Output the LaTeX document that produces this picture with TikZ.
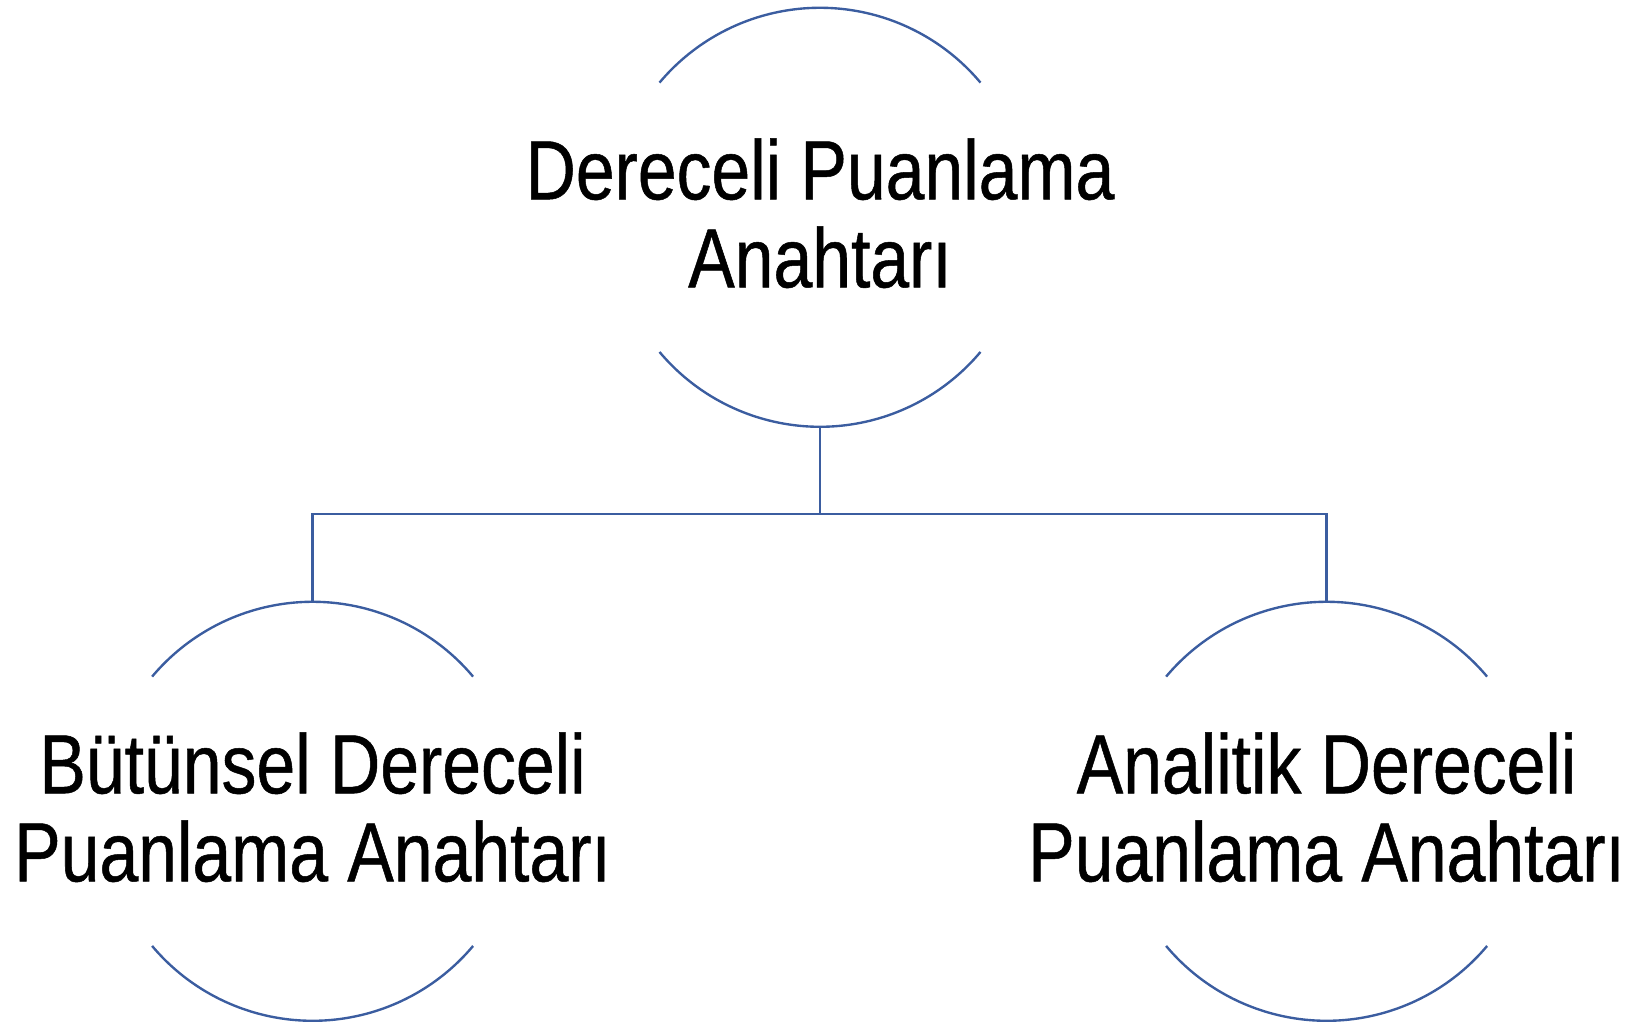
\documentclass[tikz,border=0pt]{standalone}
\usepackage{fontspec}
\setmainfont{Liberation Sans}[FakeStretch=0.83,FakeBold=0.6]
\usepackage{tikz}
\usetikzlibrary{calc}
\definecolor{line}{HTML}{3B5DA0}
\tikzset{
  arcs/.style={draw=line, line width=1.35pt},
  link/.style={draw=line, line width=1.35pt},
  lab/.style={font=\fontsize{47.8}{50.1}\selectfont, align=center, inner sep=0pt, yshift=0.08cm},
}

\begin{document}
\begin{tikzpicture}[x=0.02cm,y=0.02cm]
  \def\r{209.5}
  \useasboundingbox (0,0) rectangle (1634,1023);
  \coordinate (T) at (820,805.7);
  \coordinate (L) at (312.6,211.7);
  \coordinate (R) at (1326.6,211.7);
  % open circles: upper and lower arcs only
  \foreach \nd in {T,L,R}{
    \draw[arcs] ($(\nd)+(40:\r)$) arc[start angle=40,end angle=140,radius=\r];
    \draw[arcs] ($(\nd)+(220:\r)$) arc[start angle=220,end angle=320,radius=\r];
  }
  \node[lab] (top) at (T) {Dereceli Puanlama\\Anahtarı};
  \node[lab] (left) at (L) {Bütünsel Dereceli\\Puanlama Anahtarı};
  \node[lab] (right) at (R) {Analitik Dereceli\\Puanlama Anahtarı};
  \coordinate (topS) at ($(T)+(0,-\r)$);
  \coordinate (leftN) at ($(L)+(0,\r)$);
  \coordinate (rightN) at ($(R)+(0,\r)$);
  \coordinate (bus) at ($(topS)!.5!(leftN)$);
  \draw[link] (topS) -- (topS |- bus) -| (leftN);
  \draw[link] (topS |- bus) -| (rightN);
\end{tikzpicture}
\end{document}
